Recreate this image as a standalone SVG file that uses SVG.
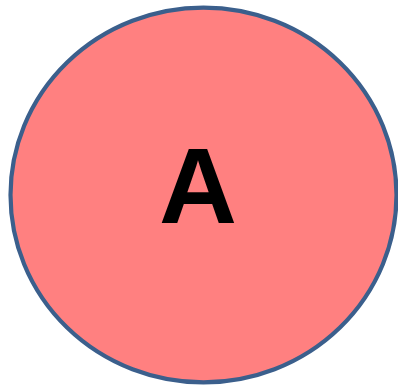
<svg xmlns="http://www.w3.org/2000/svg" width="398" height="387" viewBox="0 0 398 387">
<style>
.node{fill:#FF8080;stroke:#3B5F8C;stroke-width:4.2}
.lbl{font-family:"Liberation Sans",Arial,sans-serif;font-weight:bold;font-size:108px;fill:#000;text-anchor:middle}
</style>
<rect width="398" height="387" fill="#fff"/>
<g id="connectors"></g>
<g id="nodeA">
<ellipse class="node" cx="203.5" cy="195" rx="193" ry="187.4"/>
<text class="lbl" x="198" y="222.7">A</text>
</g>
</svg>
